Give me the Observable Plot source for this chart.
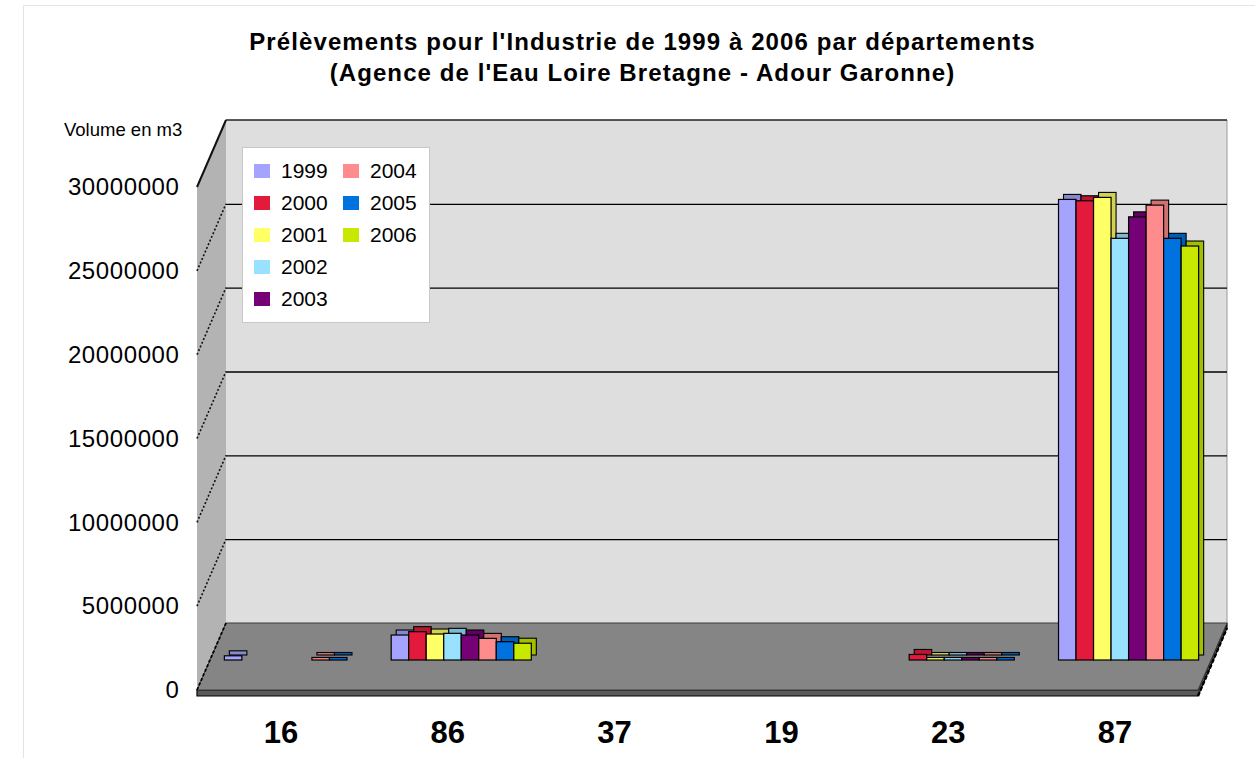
<!DOCTYPE html>
<html>
<head>
<meta charset="utf-8">
<script src="https://cdn.jsdelivr.net/npm/d3@7"></script>
<script src="https://cdn.jsdelivr.net/npm/@observablehq/plot@0.6"></script>
<style>
  html, body { margin: 0; padding: 0; background: #ffffff; }
  body { width: 1255px; height: 758px; position: relative; overflow: hidden;
         font-family: "Liberation Sans", Arial, Helvetica, sans-serif; color: #000; }
  #frame { position: absolute; left: 23px; top: 5px; width: 1300px; height: 800px;
           border: 1px solid #e4e4e4; box-sizing: border-box; }
  #title { position: absolute; left: 30px; top: 26px; width: 1225px; text-align: center;
           font-weight: bold; font-size: 24px; letter-spacing: 1.1px; line-height: 31px; }
  #chart { position: absolute; left: 0; top: 100px; }
  #ylabel { position: absolute; left: 64px; top: 120px; font-size: 18.5px; line-height: 20px; }
  #legend { position: absolute; left: 242px; top: 147px; width: 188px; height: 176px;
            background: #ffffff; border: 1px solid #c8c8c8; box-sizing: border-box;
            padding: 7px 0 0 11px; display: grid; grid-template-rows: repeat(5, 32px);
            grid-template-columns: 89px 89px; grid-auto-flow: column; font-size: 21px; }
  #legend .item { display: flex; align-items: center; }
  #legend .sw { width: 16px; height: 14px; margin-right: 11px; flex: none; }
  #chart svg [aria-label^="y-axis"] text { font-size: 24px; letter-spacing: 0.6px; }
  #chart svg [aria-label^="x-axis"] text { font-size: 31px; font-weight: bold; }
</style>
</head>
<body>
<div id="frame"></div>
<div id="title">Prélèvements pour l'Industrie de 1999 à 2006 par départements<br>(Agence de l'Eau Loire Bretagne - Adour Garonne)</div>
<div id="chart"></div>
<div id="ylabel">Volume en m3</div>
<div id="legend"></div>
<script>
// ---- data ----
const categories = ["16", "86", "37", "19", "23", "87"];
const years = ["1999", "2000", "2001", "2002", "2003", "2004", "2005", "2006"];
const v1999 = [250000, 1490000, 0, 0, 0, 27470000];
const v2000 = [0, 1690000, 0, 0, 330000, 27390000];
const v2001 = [0, 1550000, 0, 0, 150000, 27590000];
const v2002 = [0, 1590000, 0, 0, 150000, 25150000];
const v2003 = [0, 1490000, 0, 0, 150000, 26430000];
const v2004 = [150000, 1290000, 0, 0, 150000, 27130000];
const v2005 = [150000, 1090000, 0, 0, 150000, 25150000];
const v2006 = [0, 1000000, 0, 0, 0, 24690000];
const seriesValues = [v1999, v2000, v2001, v2002, v2003, v2004, v2005, v2006];
const colors = ["#a4a4ff", "#e31a3c", "#ffff66", "#99e2ff", "#760076", "#ff8c8c", "#0072e0", "#c8e800"];
const yTicks = [0, 5000000, 10000000, 15000000, 20000000, 25000000, 30000000];

// ---- table ----
const rows = [];
years.forEach((yr, k) => {
  seriesValues[k].forEach((v, i) => {
    if (v > 0) rows.push({cat: categories[i], ci: i, year: yr, k, value: v});
  });
});

// ---- layout constants (pixel depth of the pseudo-3D view) ----
const BDX = 29, BDY = -67;      // back wall offset
const MDX = 14, MDY = -30;      // bar row offset (mid depth)
const EDX = 5,  EDY = -5;       // bar extrusion
const groupWidth = 0.84;
const bw = groupWidth / years.length;
const xDomain = [-0.5, categories.length - 0.5];
const yDomain = [0, yTicks[yTicks.length - 1]];
const bx = d => d.ci + (d.k - (years.length - 1) / 2) * bw;

function backdrop(index, scales) {
  const {x, y} = scales;
  const xl = x(xDomain[0]), xr = x(xDomain[1]);
  const y0 = y(yDomain[0]), yt = y(yDomain[1]);
  const g = d3.create("svg:g");
  g.append("path")
    .attr("d", `M${xl},${yt}L${xl + BDX},${yt + BDY}L${xl + BDX},${y0 + BDY}L${xl},${y0}Z`)
    .attr("fill", "#b3b3b3");
  g.append("rect")
    .attr("x", xl + BDX).attr("y", yt + BDY)
    .attr("width", xr - xl).attr("height", y0 - yt)
    .attr("fill", "#dedede");
  g.append("line").attr("x1", xr + BDX).attr("x2", xr + BDX)
    .attr("y1", yt + BDY).attr("y2", y0 + BDY).attr("stroke", "#9a9a9a");
  g.append("line").attr("x1", xl + BDX).attr("x2", xr + BDX)
    .attr("y1", yt + BDY).attr("y2", yt + BDY).attr("stroke", "#222").attr("stroke-width", 1.5);
  return g.node();
}

function floorAndSide(index, scales) {
  const {x, y} = scales;
  const xl = x(xDomain[0]), xr = x(xDomain[1]);
  const y0 = y(yDomain[0]), yt = y(yDomain[1]);
  const g = d3.create("svg:g");
  yTicks.forEach(t => {
    if (t === yDomain[0]) return;
    g.append("line")
      .attr("x1", xl).attr("y1", y(t)).attr("x2", xl + BDX).attr("y2", y(t) + BDY)
      .attr("stroke", "#111").attr("stroke-width", t === yDomain[1] ? 2 : 1.6)
      .attr("stroke-dasharray", t === yDomain[1] ? null : "2,2");
  });
  g.append("path")
    .attr("d", `M${xl},${y0}L${xr},${y0}L${xr + BDX},${y0 + BDY}L${xr + BDX},${y0 + BDY + 5}L${xr},${y0 + 6}L${xl},${y0 + 6}Z`)
    .attr("fill", "#5a5a5a").attr("stroke", "#000").attr("stroke-width", 1.2);
  g.append("path")
    .attr("d", `M${xl},${y0}L${xr},${y0}L${xr + BDX},${y0 + BDY}L${xl + BDX},${y0 + BDY}Z`)
    .attr("fill", "#858585").attr("stroke", "#3a3a3a").attr("stroke-width", 1);
  g.append("line")
    .attr("x1", xl).attr("y1", y0).attr("x2", xl + BDX).attr("y2", y0 + BDY)
    .attr("stroke", "#000").attr("stroke-width", 1.8).attr("stroke-dasharray", "3,2");
  g.append("line")
    .attr("x1", xr).attr("y1", y0 + 6).attr("x2", xr + BDX).attr("y2", y0 + BDY + 5)
    .attr("stroke", "#000").attr("stroke-width", 2.4).attr("stroke-dasharray", "4,2");
  return g.node();
}

const barOpts = {
  x1: d => bx(d) - bw / 2,
  x2: d => bx(d) + bw / 2,
  y1: d => 0,
  y2: d => d.value
};

const plot = Plot.plot({
  width: 1255,
  height: 658,
  marginLeft: 197,
  marginRight: 57,
  marginTop: 87,
  marginBottom: 68,
  style: {background: "transparent", fontFamily: "Liberation Sans, Arial, sans-serif", color: "#000"},
  x: {type: "linear", domain: xDomain, ticks: categories.map((c, i) => i),
      tickFormat: i => categories[i], tickSize: 0, tickPadding: 30, label: null},
  y: {type: "linear", domain: yDomain, ticks: yTicks, tickFormat: d => String(d),
      tickSize: 0, tickPadding: 18, label: null},
  color: {domain: years, range: colors},
  marks: [
    backdrop,
    Plot.ruleY(yTicks.slice(1, -1), {dx: BDX, dy: BDY, stroke: "#000", strokeWidth: 1.3}),
    floorAndSide,
    Plot.rect(rows, {...barOpts, fill: "year", dx: MDX + EDX, dy: MDY + EDY, stroke: "#000", strokeWidth: 1.1}),
    Plot.rect(rows, {...barOpts, fill: "#000", fillOpacity: 0.18, dx: MDX + EDX, dy: MDY + EDY}),
    Plot.rect(rows, {...barOpts, fill: "year", dx: MDX, dy: MDY, stroke: "#000", strokeWidth: 1.2})
  ]
});
document.getElementById("chart").appendChild(plot);

// legend
const legend = document.getElementById("legend");
years.forEach((yr, k) => {
  const item = document.createElement("div");
  item.className = "item";
  const sw = document.createElement("span");
  sw.className = "sw";
  sw.style.background = colors[k];
  const label = document.createElement("span");
  label.textContent = yr;
  item.appendChild(sw);
  item.appendChild(label);
  legend.appendChild(item);
});
</script>
</body>
</html>
